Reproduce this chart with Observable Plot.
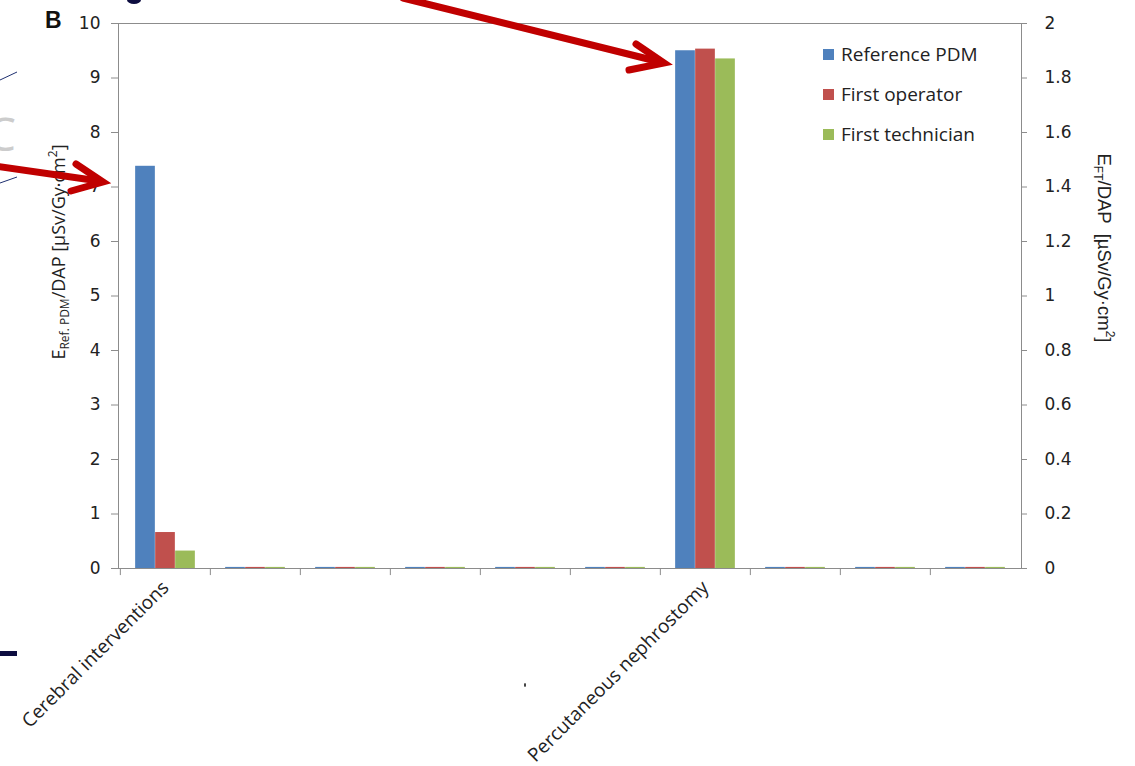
<!DOCTYPE html>
<html><head><meta charset="utf-8">
<script src="https://cdn.jsdelivr.net/npm/d3@7"></script>
<script src="https://cdn.jsdelivr.net/npm/@observablehq/plot@0.6"></script>
<style>body{margin:0;background:#fff;} #chart{position:relative;width:1135px;height:766px;overflow:hidden;}</style>
</head><body><div id="chart"></div>
<script>
const categories = ["Cerebral interventions","","","","","","Percutaneous nephrostomy","","",""];
const seriesNames = ["Reference PDM","First operator","First technician"];
const seriesColors = ["#4f81bd","#c0504d","#9bbb59"];
const referencePDM    = [7.38, 0.02, 0.02, 0.02, 0.02, 0.02, 9.50, 0.02, 0.02, 0.02];
const firstOperator   = [0.66, 0.02, 0.02, 0.02, 0.02, 0.02, 9.53, 0.02, 0.02, 0.02];
const firstTechnician = [0.32, 0.02, 0.02, 0.02, 0.02, 0.02, 9.35, 0.02, 0.02, 0.02];
const leftTicks = [0,1,2,3,4,5,6,7,8,9,10];
const rightTickLabels = ["0","0.2","0.4","0.6","0.8","1","1.2","1.4","1.6","1.8","2"];

const seriesValues = [referencePDM, firstOperator, firstTechnician];
const rows = categories.flatMap((c, i) => seriesNames.map((s, k) => ({cat: i, series: s, k, value: seriesValues[k][i]})));

const W = 1135, H = 766, mL = 118, mR = 114, mT = 23, mB = 198;
const band = (W - mL - mR) / categories.length;
const barW = 20;
const inset = (band - barW) / 2;

const barMarks = seriesNames.map((s, k) =>
  Plot.barY(rows.filter(r => r.k === k), {x: "cat", y: "value", fill: "series", insetLeft: inset, insetRight: inset, dx: (k - 1) * barW})
);

const plot = Plot.plot({
  width: W, height: H, marginTop: mT, marginBottom: mB, marginLeft: mL, marginRight: mR,
  style: {fontFamily: "DejaVu Sans", fontSize: "17px", color: "#222", background: "transparent", overflow: "visible"},
  x: {type: "band", domain: d3.range(categories.length), padding: 0},
  y: {domain: [0, 10]},
  color: {domain: seriesNames, range: seriesColors},
  marks: [
    ...barMarks,
    Plot.frame({stroke: "#8c8c8c"}),
    Plot.ruleX(d3.range(categories.length), {x: d => d, dx: -band / 2, y1: 0, y2: -0.13, stroke: "#8c8c8c"}),
    Plot.axisY({ticks: leftTicks, tickSize: 7, tickPadding: 11, stroke: "#8c8c8c", label: null, fontSize: 17}),
    Plot.axisY({anchor: "right", ticks: leftTicks, tickFormat: d => rightTickLabels[leftTicks.indexOf(d)], tickSize: 5, tickPadding: 18, stroke: "#8c8c8c", label: null, fontSize: 17}),
    Plot.axisX({tickSize: 0, tickRotate: -45, tickPadding: 16, tickFormat: i => categories[i], fontFamily: "Open Sans", fontSize: 19, label: null})
  ]
});
document.getElementById("chart").appendChild(plot);

const svg = d3.select(plot);

// Legend
const lg = svg.append("g").attr("text-anchor", "start");
seriesNames.forEach((s, k) => {
  const y = 54.5 + k * 40;
  lg.append("rect").attr("x", 823).attr("y", y - 5.5).attr("width", 11).attr("height", 11).attr("fill", seriesColors[k]);
  lg.append("text").attr("x", 841).attr("y", y).attr("dy", "0.35em").attr("text-anchor", "start")
    .style("font-family", "Open Sans").style("font-size", "19px").attr("fill", "#222").text(s);
});

// Left axis label
const ll = svg.append("text").attr("transform", "translate(65,252) rotate(-90)").attr("text-anchor", "middle")
  .style("font-family", "Open Sans").style("font-size", "18px").attr("fill", "#222");
ll.append("tspan").text("E");
ll.append("tspan").style("font-size", "12px").attr("dy", 4).text("Ref. PDM");
ll.append("tspan").attr("dy", -4).text("/DAP [µSv/Gy·cm");
ll.append("tspan").style("font-size", "12px").attr("dy", -8).text("2");
ll.append("tspan").attr("dy", 8).text("]");

// Right axis label
const rl = svg.append("text").attr("transform", "translate(1098,248) rotate(90)").attr("text-anchor", "middle")
  .style("font-family", "'Liberation Sans Narrow', 'Arial Narrow', sans-serif").style("font-stretch", "condensed")
  .style("font-size", "18.5px").attr("fill", "#222");
rl.append("tspan").text("E");
rl.append("tspan").style("font-size", "12px").attr("dy", 4).text("FT");
rl.append("tspan").attr("dy", -4).text("/DAP  [µSv/Gy·cm");
rl.append("tspan").style("font-size", "12px").attr("dy", -8).text("2");
rl.append("tspan").attr("dy", 8).text("]");

// Panel letter and slide remnants
svg.append("text").attr("x", 45).attr("y", 28).attr("text-anchor", "start").style("font-family", "Liberation Sans").style("font-weight", "bold")
  .style("font-size", "23px").attr("fill", "#111").text("B");
svg.append("text").attr("x", -13).attr("y", 151).attr("text-anchor", "start").style("font-family", "Open Sans").style("font-size", "46px")
  .attr("fill", "#cccccc").text("C");
svg.append("line").attr("x1", 0).attr("y1", 80).attr("x2", 17).attr("y2", 72).attr("stroke", "#1f3070").attr("stroke-width", 1);
svg.append("line").attr("x1", 0).attr("y1", 183).attr("x2", 17).attr("y2", 177).attr("stroke", "#1f3070").attr("stroke-width", 1);
svg.append("rect").attr("x", 0).attr("y", 651).attr("width", 17).attr("height", 5).attr("fill", "#0d0d40");
svg.append("ellipse").attr("cx", 134).attr("cy", 0).attr("rx", 7).attr("ry", 4).attr("fill", "#0d0d40");
svg.append("ellipse").attr("cx", 525).attr("cy", 685).attr("rx", 1).attr("ry", 2).attr("fill", "#333");

// Red arrows
const arrow = (x1, y1, x2, y2, wa, wb) => {
  const g = svg.append("g").attr("stroke", "#c00000").attr("stroke-width", 7).attr("stroke-linecap", "round").attr("fill", "none");
  g.append("line").attr("x1", x1).attr("y1", y1).attr("x2", x2 - 4).attr("y2", y2 - 1);
  g.append("polyline").attr("points", `${wa[0]},${wa[1]} ${x2},${y2} ${wb[0]},${wb[1]}`).attr("stroke-linejoin", "miter");
};
arrow(-5, 166, 103, 182, [76, 164], [71, 191]);
arrow(403, -2, 664, 63, [636, 44], [629, 70]);
</script></body></html>
